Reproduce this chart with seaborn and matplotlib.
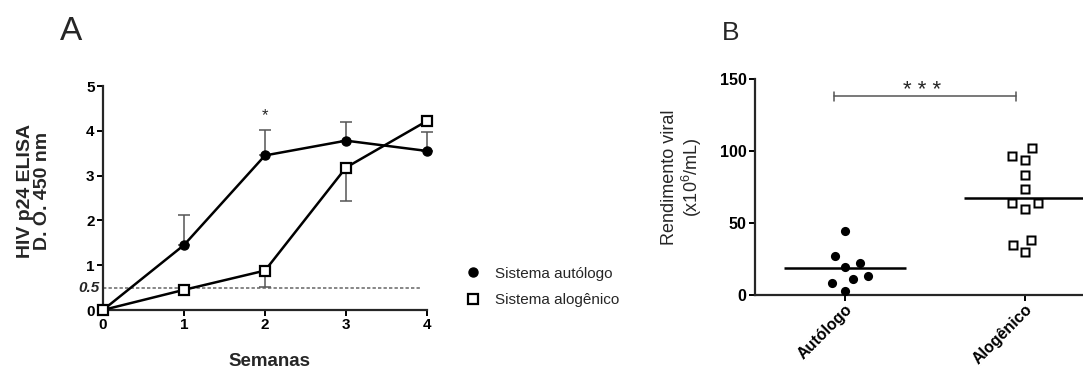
import numpy as np
import pandas as pd
import matplotlib
matplotlib.use("Agg")
import matplotlib.pyplot as plt
from matplotlib.lines import Line2D
from matplotlib.path import Path
import seaborn as sns

# ---------------- data ----------------
semanas = [0, 1, 2, 3, 4]
autologo = [0.0, 1.45, 3.45, 3.78, 3.55]
autologo_err_up = [0.0, 0.67, 0.57, 0.42, 0.42]
alogenico = [0.0, 0.45, 0.88, 3.18, 4.22]
alogenico_err_down = [0.0, 0.0, 0.36, 0.75, 0.0]
limiar = 0.5

grupos = ["Autólogo", "Alogênico"]
rend_autologo = [44.7, 27.3, 22.0, 19.7, 13.0, 11.3, 8.1, 2.8]
rend_alogenico = [102.0, 96.5, 94.0, 83.0, 73.6, 64.0, 64.0, 60.0, 38.0, 34.7, 29.6]

# ---------------- style ----------------
sns.set_theme(style="ticks")
plt.rcParams["font.family"] = ["Liberation Sans", "DejaVu Sans"]
plt.rcParams["mathtext.fontset"] = "custom"
plt.rcParams["mathtext.rm"] = "Liberation Sans"
plt.rcParams["mathtext.it"] = "Liberation Sans:italic"
plt.rcParams["mathtext.bf"] = "Liberation Sans:bold"

W, H = 1083, 369
fig = plt.figure(figsize=(W / 100, H / 100), dpi=100)

def ax_rect(l, r, t, b):
    return [l / W, 1 - b / H, (r - l) / W, (b - t) / H]

# hollow square marker (outline only)
o, i = 0.5, 0.31
hollow_sq = Path(
    [(-o, -o), (o, -o), (o, o), (-o, o), (-o, -o),
     (-i, -i), (-i, i), (i, i), (i, -i), (-i, -i)],
    [Path.MOVETO, Path.LINETO, Path.LINETO, Path.LINETO, Path.CLOSEPOLY,
     Path.MOVETO, Path.LINETO, Path.LINETO, Path.LINETO, Path.CLOSEPOLY],
)

# ---------------- panel A ----------------
axA = fig.add_axes(ax_rect(103, 427, 86, 310))
dfA = pd.DataFrame({"Semanas": semanas, "aut": autologo, "alo": alogenico})

axA.errorbar(semanas, autologo, yerr=[np.zeros(len(semanas)), autologo_err_up],
             fmt="none", ecolor="#555555", elinewidth=1.1, capsize=4, capthick=1.1,
             zorder=2, clip_on=False)
axA.errorbar(semanas, alogenico, yerr=[alogenico_err_down, np.zeros(len(semanas))],
             fmt="none", ecolor="#555555", elinewidth=1.1, capsize=4, capthick=1.1,
             zorder=2, clip_on=False)
axA.axhline(limiar, xmin=0, xmax=0.985, color="#666666", lw=1.1,
            ls=(0, (2.2, 1.4)), zorder=1)

sns.lineplot(data=dfA, x="Semanas", y="aut", ax=axA, color="black", lw=1.8,
             marker="o", markersize=6.5, markeredgecolor="black",
             markeredgewidth=1, clip_on=False, zorder=3)
sns.lineplot(data=dfA, x="Semanas", y="alo", ax=axA, color="black", lw=1.8,
             marker="s", markersize=7.5, markerfacecolor="white",
             markeredgecolor="black", markeredgewidth=1.6, clip_on=False, zorder=4)

axA.set_xlim(0, 4)
axA.set_ylim(0, 5)
axA.set_xticks(semanas)
axA.set_xticklabels([str(s) for s in semanas], fontweight="bold", fontsize=11)
axA.set_yticks([0, 1, 2, 3, 4, 5])
axA.set_yticklabels(["0", "1", "2", "3", "4", "5"], fontweight="bold", fontsize=11)
axA.text(-0.012, limiar, "0.5", transform=axA.get_yaxis_transform(),
         ha="right", va="center", fontsize=11, fontweight="bold", style="italic")
axA.set_xlabel("")
axA.set_ylabel("HIV p24 ELISA\nD. O. 450 nm", fontsize=14, fontweight="bold",
               linespacing=1.05)
axA.yaxis.set_label_coords(-0.16, 0.53)
for s in ["left", "bottom"]:
    axA.spines[s].set_linewidth(1.6)
sns.despine(ax=axA)
axA.tick_params(axis="both", width=1.4, length=4, pad=2, colors="black")
axA.text(2, 4.33, "*", ha="center", va="center", fontsize=12)

fig.text(269 / W, 1 - 366 / H, "Semanas", ha="center", va="baseline",
         fontsize=13.5, fontweight="bold")
fig.text(60 / W, 1 - 40 / H, "A", ha="left", va="baseline", fontsize=24)

handles = [Line2D([], [], ls="none", marker="o", color="black", markersize=6.5),
           Line2D([], [], ls="none", marker="s", markerfacecolor="white",
                  markeredgecolor="black", markeredgewidth=1.6, markersize=7)]
fig.legend(handles, ["Sistema autólogo", "Sistema alogênico"],
           loc="center left", bbox_to_anchor=(450 / W, 1 - 287 / H),
           frameon=False, fontsize=11, handletextpad=0.85, labelspacing=0.85,
           handlelength=1.2)

# ---------------- panel B ----------------
axB = fig.add_axes(ax_rect(755, 1083, 79, 295))
dfB = pd.DataFrame({
    "grupo": [grupos[0]] * len(rend_autologo) + [grupos[1]] * len(rend_alogenico),
    "rend": rend_autologo + rend_alogenico,
})

sns.swarmplot(data=dfB[dfB.grupo == grupos[0]], x="grupo", y="rend", order=grupos,
              ax=axB, color="black", marker="o", size=6.6,
              edgecolor=(1, 1, 1, 0), linewidth=3.8, clip_on=False, zorder=3)
sns.swarmplot(data=dfB[dfB.grupo == grupos[1]], x="grupo", y="rend", order=grupos,
              ax=axB, color="black", marker=hollow_sq, size=7.4,
              edgecolor=(1, 1, 1, 0), linewidth=2.2, clip_on=False, zorder=3)
sns.pointplot(data=dfB, x="grupo", y="rend", order=grupos, ax=axB,
              estimator="mean", errorbar=None, color="black",
              marker="_", linestyle="none", markersize=88, markeredgewidth=1.8)

axB.set_xlim(-0.5, -0.5 + 328 / 180)
axB.set_ylim(0, 150)
axB.set_yticks([0, 50, 100, 150])
axB.set_yticklabels(["0", "50", "100", "150"], fontweight="bold", fontsize=11.5)
axB.set_xticks([0, 1])
axB.set_xticklabels(grupos, fontweight="bold", fontsize=11.5, rotation=45,
                    ha="right", rotation_mode="anchor")
axB.set_xlabel("")
axB.set_ylabel("Rendimento viral\n(x10$^\\mathregular{6}$/mL)", fontsize=13,
               linespacing=1.1)
axB.yaxis.set_label_coords(-0.155, 0.545)
for s in ["left", "bottom"]:
    axB.spines[s].set_linewidth(1.6)
sns.despine(ax=axB)
axB.tick_params(axis="both", width=1.4, length=4, pad=2, colors="black")
axB.tick_params(axis="x", pad=1)

# significance bar
y_sig = 138
axB.plot([-0.06, 0.95], [y_sig, y_sig], color="#555555", lw=1.1)
axB.plot([-0.06, -0.06], [y_sig - 3, y_sig + 3], color="#555555", lw=1.1)
axB.plot([0.95, 0.95], [y_sig - 3, y_sig + 3], color="#555555", lw=1.1)
axB.text(0.43, 138.5, "* * *", ha="center", va="baseline", fontsize=16)

fig.text(722 / W, 1 - 40 / H, "B", ha="left", va="baseline", fontsize=19)

fig.savefig("out.png", dpi=100, facecolor="white")
